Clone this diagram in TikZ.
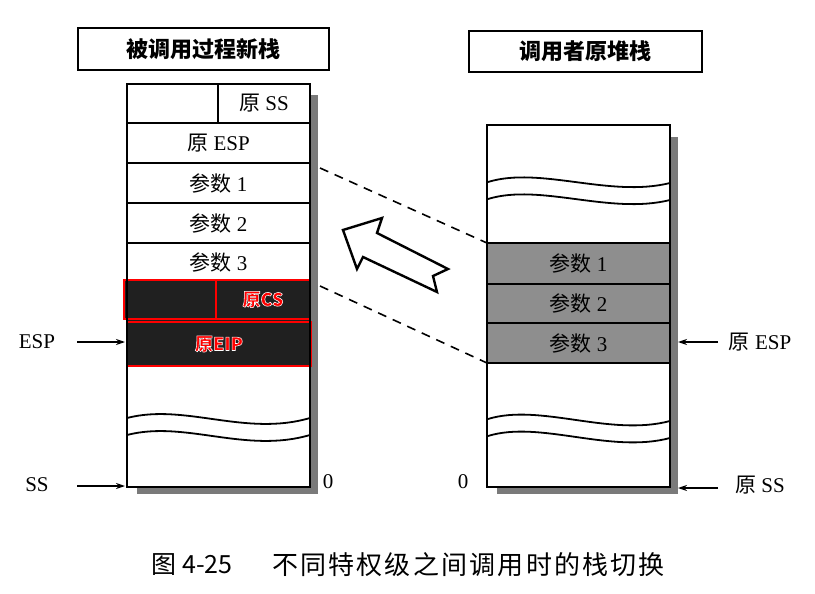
\documentclass[tikz,border=0pt]{standalone}
\usepackage{fontspec}
\setmainfont{Liberation Serif}
\newfontfamily\cjk{Noto Sans CJK SC}
\newfontfamily\halofont[FakeBold=3]{Noto Sans CJK SC}
\usetikzlibrary{arrows.meta}
\definecolor{darkcell}{HTML}{202020}
\definecolor{graycell}{HTML}{8E8E8E}
\definecolor{shadowc}{HTML}{7A7A7A}
\newcommand\zh[1]{{\cjk #1}}
\newcommand\halo[1]{{\halofont\bfseries\color{red}\special{pdf:literal direct 1 1 1 RG}#1}}
\begin{document}
\begin{tikzpicture}[x=1pt,y=-1pt,
  frame/.style={draw,line width=1.8pt,inner sep=0pt,outer sep=0pt},
  cell/.style={draw,line width=1.6pt,inner sep=0pt,outer sep=0pt,font=\fontsize{21}{23}\selectfont},
  titlebox/.style={draw,line width=1.8pt,inner sep=0pt,outer sep=0pt,font=\cjk\bfseries\fontsize{22}{24}\selectfont},
  redcell/.style={draw=red,line width=2pt,fill=darkcell,inner sep=0pt,outer sep=0pt,font=\fontsize{18}{19}\selectfont},
  graycellst/.style={cell,fill=graycell},
  lbl/.style={inner sep=0pt,font=\fontsize{21}{23}\selectfont},
  ptr/.style={line width=1.2pt,-{Stealth[length=9pt,width=6pt]}},
  wave/.style={line width=1.8pt},
  dashln/.style={line width=1.6pt,dash pattern=on 9pt off 7pt},
  hollow/.style={draw,line width=2.4pt,line join=miter,fill=white}]
\useasboundingbox (0,0) rectangle (815,594);
\fill[white] (0,0) rectangle (815,594);

% titles
\node[titlebox,minimum width=251pt,minimum height=42pt] (ltitle) at (203.5,49) {被调用过程新栈};
\node[titlebox,minimum width=233pt,minimum height=41pt] (rtitle) at (585.5,51.5) {调用者原堆栈};

% ---------- left stack ----------
\fill[shadowc] (137,95) rectangle (318,494);
\node[frame,fill=white,minimum width=183pt,minimum height=403pt] (lstack) at (218.5,285.5) {};
\node[cell,minimum width=91pt,minimum height=39pt] (lempty) at (172.5,103.5) {};
\node[cell,minimum width=92pt,minimum height=39pt] (oss) at (264,103.5) {\zh{原} SS};
\node[cell,minimum width=183pt,minimum height=40pt] (oesp) at (218.5,143) {\zh{原} ESP};
\node[cell,minimum width=183pt,minimum height=40pt] (lp1) at (218.5,183) {\zh{参数} 1};
\node[cell,minimum width=183pt,minimum height=40pt] (lp2) at (218.5,223) {\zh{参数} 2};
\node[cell,minimum width=183pt,minimum height=38pt] (lp3) at (218.5,262) {\zh{参数} 3};
\fill[darkcell] (127,281) rectangle (310,366);
\node[redcell,minimum width=92pt,minimum height=39pt] (rcsl) at (170,299.5) {};
\node[redcell,minimum width=94pt,minimum height=39pt] (rcs) at (263,299.5) {\halo{原CS}};
\node[redcell,minimum width=184pt,minimum height=44pt] (reip) at (219,344) {\halo{原EIP}};
\draw[wave] (127,418) .. controls (185,403) and (245,437) .. (310,418);
\draw[wave] (127,435) .. controls (185,420) and (245,454) .. (310,435);
\draw[line width=1.8pt] (lstack.south west) -- (lstack.south east) -- (lstack.north east);
\draw[line width=1.8pt] (lstack.south west) -- (lstack.north west);

% left labels
\node[lbl] (esp) at (37,342) {ESP};
\node[lbl] (ss) at (37,485) {SS};
\node[lbl] (z1) at (328,482) {0};
\coordinate (espa) at (77,342);
\coordinate (espb) at (125,342);
\coordinate (ssa) at (77,486);
\coordinate (ssb) at (125,486);
\draw[ptr] (espa) -- (espb);
\draw[ptr] (ssa) -- (ssb);

% ---------- right stack ----------
\fill[shadowc] (497,137) rectangle (678,494);
\node[frame,fill=white,minimum width=183pt,minimum height=362pt] (rstack) at (578.5,306) {};
\node[graycellst,minimum width=183pt,minimum height=41pt] (rp1) at (578.5,263.5) {\zh{参数} 1};
\node[graycellst,minimum width=183pt,minimum height=39pt] (rp2) at (578.5,303.5) {\zh{参数} 2};
\node[graycellst,minimum width=183pt,minimum height=40pt] (rp3) at (578.5,343) {\zh{参数} 3};
\draw[wave] (488,182) .. controls (540,166) and (610,198) .. (670,183);
\draw[wave] (488,199) .. controls (540,183) and (610,215) .. (670,200);
\draw[wave] (488,419) .. controls (540,403) and (610,437) .. (670,421);
\draw[wave] (488,436) .. controls (540,420) and (610,454) .. (670,438);

\node[lbl] (z2) at (463,482) {0};
\node[lbl] (roesp) at (760,342) {\zh{原} ESP};
\node[lbl] (ross) at (760,485) {\zh{原} SS};
\coordinate (resa) at (718,342);
\coordinate (resb) at (678,342);
\coordinate (rssa) at (718,488);
\coordinate (rssb) at (678,488);
\draw[ptr] (resa) -- (resb);
\draw[ptr] (rssa) -- (rssb);

% dashed connectors
\coordinate (d1a) at (320,168);
\coordinate (d1b) at (487,243);
\coordinate (d2a) at (320,286);
\coordinate (d2b) at (487,363);
\draw[dashln] (d1a) -- (d1b);
\draw[dashln] (d2a) -- (d2b);

% hollow arrow
\draw[hollow] (343,230) -- (382,218) -- (377,233) -- (448,269) -- (433,276) -- (437,292) -- (363,257) -- (357,269) -- cycle;

% caption
\node[inner sep=0pt,font=\cjk\fontsize{25}{27}\selectfont] (cap1) at (192,565) {图 4-25};
\node[inner sep=0pt,font=\cjk\fontsize{26}{28}\selectfont] (cap2) at (468.5,565) {\hbox to 393pt{不\hfil 同\hfil 特\hfil 权\hfil 级\hfil 之\hfil 间\hfil 调\hfil 用\hfil 时\hfil 的\hfil 栈\hfil 切\hfil 换}};
\end{tikzpicture}
\end{document}
